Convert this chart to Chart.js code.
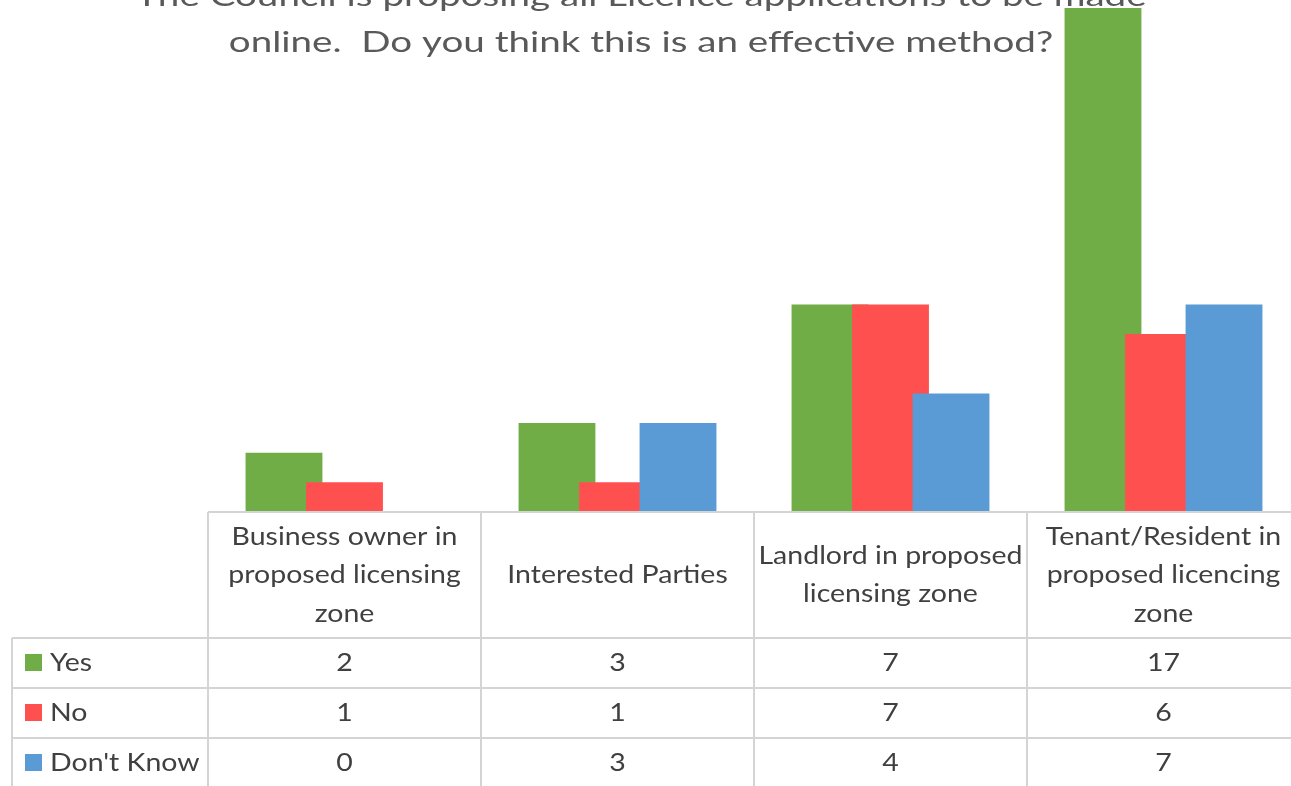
<!DOCTYPE html>
<html>
<head>
<meta charset="utf-8">
<script src="https://cdn.jsdelivr.net/npm/chart.js@4.4.1/dist/chart.umd.min.js"></script>
<style>
    html, body { margin: 0; padding: 0; background: #fff; overflow: hidden; }
    #wrap { position: relative; width: 1310px; height: 786px; }
</style>
</head>
<body>
<div id="wrap"><canvas id="licenceChart"></canvas></div>
<script>
const titleLines = [
    'The Council is proposing all Licence applications to be made',
    'online.  Do you think this is an effective method?'
];
const categories = [
    ['Business owner in', 'proposed licensing', 'zone'],
    ['Interested Parties'],
    ['Landlord in proposed', 'licensing zone'],
    ['Tenant/Resident in', 'proposed licencing', 'zone']
];
const seriesNames = ['Yes', 'No', "Don't Know"];
const yesValues = [2, 3, 7, 17];
const noValues = [1, 1, 7, 6];
const dontKnowValues = [0, 3, 4, 7];
const seriesColors = ['#70ad47', '#ff5050', '#5b9bd5'];

const FONT = 'Lato, "Open Sans", sans-serif';
const textColor = '#404040';
const gridColor = '#d4d4d4';

// the source font is wider than Lato, so text gets a small horizontal stretch
function stretchedText(ctx, text, x, y, sx, align) {
    ctx.save();
    ctx.translate(x, y);
    ctx.scale(sx, 1);
    ctx.textAlign = align || 'center';
    ctx.fillText(text, 0, 0);
    ctx.restore();
}

// draw series left to right so the later bar overlaps the earlier one (Excel overlap)
const forwardDraw = {
    id: 'forwardDraw',
    beforeDatasetsDraw(chart) {
        const metas = chart.getSortedVisibleDatasetMetas();
        const ctx = chart.ctx;
        const area = chart.chartArea;
        ctx.save();
        ctx.beginPath();
        ctx.rect(area.left, area.top - 2, area.right - area.left, area.bottom - area.top + 2);
        ctx.clip();
        metas.forEach(meta => meta.controller.draw());
        ctx.restore();
        return false;
    }
};

// title overlaid on the plot, first line runs off the top
const overlayTitle = {
    id: 'overlayTitle',
    afterDraw(chart) {
        const ctx = chart.ctx;
        ctx.save();
        ctx.fillStyle = '#595959';
        ctx.font = '29px ' + FONT;
        ctx.textBaseline = 'alphabetic';
        stretchedText(ctx, titleLines[0], 641, 6, 1.33);
        stretchedText(ctx, titleLines[1], 641, 52, 1.33);
        ctx.restore();
    }
};

// Excel style data table under the plot
const dataTable = {
    id: 'dataTable',
    afterDraw(chart) {
        const ctx = chart.ctx;
        const x = chart.scales.x;
        const top = chart.chartArea.bottom;
        const colW = (x.right - x.left) / categories.length;
        const headerBottom = top + 126;
        const rowH = 50;
        const legendLeft = 12;
        const bottom = chart.height + 10;
        const rows = [yesValues, noValues, dontKnowValues];
        const sx = 1.14;

        ctx.save();
        ctx.strokeStyle = gridColor;
        ctx.lineWidth = 2;
        ctx.beginPath();
        ctx.moveTo(x.left, top); ctx.lineTo(chart.width, top);
        for (let r = 0; r < rows.length; r++) {
            const yy = headerBottom + r * rowH;
            ctx.moveTo(legendLeft, yy); ctx.lineTo(chart.width, yy);
        }
        ctx.moveTo(legendLeft, headerBottom); ctx.lineTo(legendLeft, bottom);
        for (let c = 0; c <= categories.length; c++) {
            const xx = x.left + c * colW;
            ctx.moveTo(xx, top); ctx.lineTo(xx, bottom);
        }
        ctx.stroke();

        ctx.fillStyle = textColor;
        ctx.font = '25px ' + FONT;
        ctx.textBaseline = 'middle';
        const lineH = 38.5;
        categories.forEach((lines, i) => {
            const cx = x.getPixelForValue(i);
            const mid = (top + headerBottom) / 2;
            lines.forEach((ln, k) => {
                stretchedText(ctx, ln, cx, mid + (k - (lines.length - 1) / 2) * lineH, sx);
            });
        });

        rows.forEach((vals, r) => {
            const cy = headerBottom + r * rowH + rowH / 2;
            vals.forEach((v, i) => {
                stretchedText(ctx, String(v), x.getPixelForValue(i), cy, sx);
            });
            ctx.fillStyle = seriesColors[r];
            ctx.fillRect(legendLeft + 13, cy - 9, 17, 17);
            ctx.fillStyle = textColor;
            stretchedText(ctx, seriesNames[r], legendLeft + 38, cy, sx, 'left');
        });
        ctx.restore();
    }
};

const ctx = document.getElementById('licenceChart').getContext('2d');
new Chart(ctx, {
    type: 'bar',
    data: {
        labels: categories.map(c => c.join(' ')),
        datasets: [
            { label: seriesNames[0], data: yesValues, backgroundColor: seriesColors[0] },
            { label: seriesNames[1], data: noValues, backgroundColor: seriesColors[1] },
            { label: seriesNames[2], data: dontKnowValues, backgroundColor: seriesColors[2] }
        ]
    },
    options: {
        responsive: true,
        maintainAspectRatio: false,
        animation: false,
        layout: { padding: { left: 208, right: 10, top: 8, bottom: 274 } },
        datasets: {
            bar: { categoryPercentage: 0.665, barPercentage: 1.27, borderWidth: 0 }
        },
        scales: {
            x: { display: false },
            y: { display: false, min: 0, max: 17 }
        },
        plugins: {
            legend: { display: false },
            title: { display: false },
            tooltip: { enabled: false }
        }
    },
    plugins: [forwardDraw, overlayTitle, dataTable]
});
</script>
</body>
</html>
